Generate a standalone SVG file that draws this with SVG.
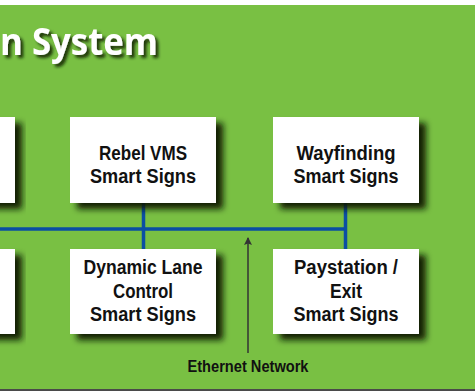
<svg xmlns="http://www.w3.org/2000/svg" width="475" height="391" viewBox="0 0 475 391">
  <defs>
    <filter id="boxShadow" x="-20%" y="-20%" width="150%" height="150%">
      <feDropShadow dx="7" dy="6" stdDeviation="3" flood-color="#081400" flood-opacity="0.95"/>
    </filter>
    <filter id="titleShadow" x="-10%" y="-30%" width="130%" height="170%">
      <feDropShadow dx="3" dy="3" stdDeviation="1.6" flood-color="#102400" flood-opacity="0.85"/>
    </filter>
    <marker id="arrowHead" markerWidth="10" markerHeight="10" refX="5" refY="1" orient="0" markerUnits="userSpaceOnUse" viewBox="0 0 10 10">
      <path d="M5,0 L9,8 L5,6.5 L1,8 Z" fill="#333"/>
    </marker>
  </defs>
  <style>
    .box { fill: #ffffff; filter: url(#boxShadow); }
    .lbl { font-family: "Liberation Sans", Arial, sans-serif; font-weight: bold; font-size: 20px; fill: #111; text-anchor: middle; }
    .net { stroke: #0a4fa3; stroke-width: 3.5; fill: none; }
    .title { font-family: "Open Sans", "Liberation Sans", sans-serif; font-weight: bold; font-size: 37px; fill: #ffffff; filter: url(#titleShadow); }
    .small { font-family: "Liberation Sans", Arial, sans-serif; font-weight: bold; font-size: 16px; fill: #111; text-anchor: middle; }
  </style>
  <rect x="0" y="0" width="475" height="391" fill="#ffffff"/>
  <rect x="0" y="5" width="475" height="386" fill="#79c043"/>
  <rect x="0" y="389" width="475" height="2" fill="#4a4a4a"/>

  <text class="title" x="0" y="55" textLength="158" lengthAdjust="spacingAndGlyphs">n System</text>

  <g id="connectors">
    <line class="net" x1="0" y1="229" x2="347" y2="229"/>
    <line class="net" x1="143.5" y1="203" x2="143.5" y2="249"/>
    <line class="net" x1="345.5" y1="203" x2="345.5" y2="249"/>
    <line x1="248" y1="353" x2="248" y2="238" stroke="#333" stroke-width="1.5" marker-end="url(#arrowHead)"/>
  </g>

  <g id="node-left-top">
    <rect class="box" x="-20" y="117" width="35" height="86"/>
  </g>
  <g id="node-left-bottom">
    <rect class="box" x="-20" y="249" width="35" height="85"/>
  </g>

  <g id="node-rebel">
    <rect class="box" x="70" y="117" width="146" height="86"/>
    <text class="lbl" x="143" y="160" textLength="88" lengthAdjust="spacingAndGlyphs">Rebel VMS</text>
    <text class="lbl" x="143" y="183" textLength="106" lengthAdjust="spacingAndGlyphs">Smart Signs</text>
  </g>

  <g id="node-wayfinding">
    <rect class="box" x="273" y="117" width="146" height="86"/>
    <text class="lbl" x="346" y="160" textLength="99" lengthAdjust="spacingAndGlyphs">Wayfinding</text>
    <text class="lbl" x="346" y="183" textLength="105" lengthAdjust="spacingAndGlyphs">Smart Signs</text>
  </g>

  <g id="node-dynamic-lane">
    <rect class="box" x="70" y="249" width="146" height="85"/>
    <text class="lbl" x="143" y="274" textLength="119" lengthAdjust="spacingAndGlyphs">Dynamic Lane</text>
    <text class="lbl" x="143" y="297.5" textLength="60" lengthAdjust="spacingAndGlyphs">Control</text>
    <text class="lbl" x="143" y="321" textLength="106" lengthAdjust="spacingAndGlyphs">Smart Signs</text>
  </g>

  <g id="node-paystation">
    <rect class="box" x="273" y="249" width="146" height="85"/>
    <text class="lbl" x="346" y="274" textLength="104" lengthAdjust="spacingAndGlyphs">Paystation /</text>
    <text class="lbl" x="346" y="297.5" textLength="32" lengthAdjust="spacingAndGlyphs">Exit</text>
    <text class="lbl" x="346" y="321" textLength="105" lengthAdjust="spacingAndGlyphs">Smart Signs</text>
  </g>

  <g id="label-ethernet">
    <text class="small" x="248" y="372" textLength="121" lengthAdjust="spacingAndGlyphs">Ethernet Network</text>
  </g>
</svg>
